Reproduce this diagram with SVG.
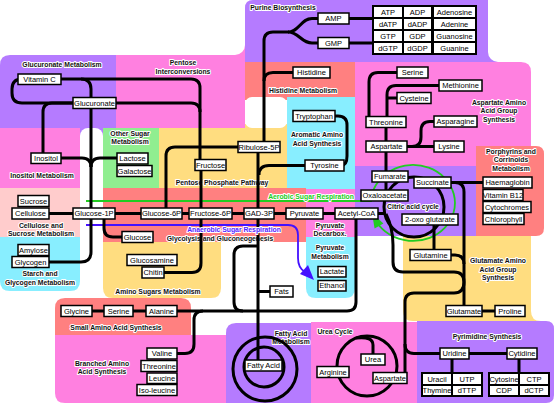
<svg xmlns="http://www.w3.org/2000/svg" width="556" height="403" viewBox="0 0 556 403">
<style>
.n rect{fill:#fff;stroke:#000;stroke-width:1.5}
.n text,.t text{font-family:"Liberation Sans",Arial,sans-serif;font-size:7.5px;text-anchor:middle;dominant-baseline:central;fill:#000}
.lb{font-family:"Liberation Sans",Arial,sans-serif;font-size:6.8px;font-weight:bold;text-anchor:middle;dominant-baseline:central;fill:#111;stroke:#fff;stroke-width:2;paint-order:stroke;stroke-linejoin:round}
.pu{fill:#b57bff}.pk{fill:#ff80e0}.sa{fill:#ff8080}.cy{fill:#88eeff}.ye{fill:#ffdd80}.gr{fill:#90ee90}.lp{fill:#ffcccc}
#connectors path,#connectors circle{fill:none;stroke:#000;stroke-width:3}
</style>
<rect width="556" height="403" fill="#fff"/>
<g id="regions">
<rect class="ye" x="159" y="124" width="129" height="64"/>
<path class="pu" d="M0 65 Q0 55 10 55 H116 V128 H0 Z"/>
<rect class="pu" x="80" y="126" width="23" height="10"/>
<rect class="pk" x="116" y="45" width="129" height="83"/>
<path class="pu" d="M245 8 Q245 0 253 0 H498 V62 H245 Z"/>
<rect x="488" y="-20" width="90" height="82" rx="10" fill="#fff"/>
<rect x="-10" y="-10" width="255" height="65" rx="10" fill="#fff"/>
<rect class="sa" x="245" y="62" width="110" height="38"/>
<path class="pk" d="M355 62 H521 Q531 62 531 72 V146 H476 V166 H355 Z"/>
<rect class="cy" x="287" y="97" width="68" height="92"/>
<rect x="245" y="97" width="42" height="31" rx="7" fill="#fff"/>
<rect class="gr" x="103" y="128" width="56" height="60"/>
<rect class="pk" x="0" y="128" width="80" height="60"/>
<rect class="lp" x="0" y="188" width="80" height="49"/>
<path class="cy" d="M0 237 H80 V281 Q80 291 70 291 H10 Q0 291 0 281 Z"/>
<rect x="80" y="128" width="23" height="175" rx="8" fill="#fff"/>
<rect class="sa" x="103" y="188" width="203" height="54"/>
<rect class="pk" x="306" y="189" width="49" height="48"/>
<path class="cy" d="M306 237 H355 V288 Q355 298 345 298 H316 Q306 298 306 288 Z"/>
<rect class="pu" x="355" y="166" width="121" height="70"/>
<path class="sa" d="M476 146 H536 Q544 146 544 154 V228 Q544 236 536 236 H476 Z"/>
<path class="ye" d="M403 236 H531 V321 H413 Q403 321 403 311 Z"/>
<path class="ye" d="M531 311 Q531 321 541 321 H531 Z"/>
<path class="ye" d="M103 242 H221 V288 Q221 298 211 298 H113 Q103 298 103 288 Z"/>
<path class="sa" d="M55 308 Q55 298 65 298 H181 Q191 298 191 308 V335 H55 Z"/>
<path class="pk" d="M55 335 H226 V403 H65 Q55 403 55 393 Z"/>
<path class="pu" d="M226 333 Q226 323 236 323 H311 V403 H226 Z"/>
<rect class="pk" x="311" y="322" width="106" height="81"/>
<path class="pu" d="M417 321 H546 Q554 321 554 329 V395 Q554 403 546 403 H417 Z"/>
</g>
<g id="labels">
<text class="lb" x="62" y="64.5">Glucuronate Metabolism</text>
<text class="lb" x="183" y="62">Pentose</text>
<text class="lb" x="183" y="71">Interconversions</text>
<text class="lb" x="283" y="7">Purine Biosynthesis</text>
<text class="lb" x="303" y="90.5">Histidine Metabolism</text>
<text class="lb" x="317" y="134.5">Aromatic Amino</text>
<text class="lb" x="317" y="143.5">Acid Synthesis</text>
<text class="lb" x="499" y="102">Aspartate Amino</text>
<text class="lb" x="499" y="110.5">Acid Group</text>
<text class="lb" x="499" y="119">Synthesis</text>
<text class="lb" x="130" y="133">Other Sugar</text>
<text class="lb" x="130" y="141.5">Metabolism</text>
<text class="lb" x="42" y="175">Inositol Metabolism</text>
<text class="lb" x="41" y="225.5">Cellulose and</text>
<text class="lb" x="41" y="233.5">Sucrose Metabolism</text>
<text class="lb" x="40" y="273.5">Starch and</text>
<text class="lb" x="40" y="282">Glycogen Metabolism</text>
<text class="lb" x="222" y="182.5">Pentose Phosphate Pathway</text>
<text class="lb" x="220" y="238.5">Glycolysis and Gluconeogenesis</text>
<text class="lb" x="330" y="225">Pyruvate</text>
<text class="lb" x="330" y="233">Decarbox.</text>
<text class="lb" x="330" y="247">Pyruvate</text>
<text class="lb" x="330" y="256">Metabolism</text>
<text class="lb" x="413" y="206">Citric acid cycle</text>
<text class="lb" x="511" y="151">Porphyrins and</text>
<text class="lb" x="511" y="159.5">Corrinoids</text>
<text class="lb" x="511" y="168">Metabolism</text>
<text class="lb" x="498" y="260.5">Glutamate Amino</text>
<text class="lb" x="498" y="269">Acid Group</text>
<text class="lb" x="498" y="277">Synthesis</text>
<text class="lb" x="158" y="291">Amino Sugars Metabolism</text>
<text class="lb" x="116" y="327">Small Amino Acid Synthesis</text>
<text class="lb" x="102" y="363">Branched Amino</text>
<text class="lb" x="102" y="371">Acid Synthesis</text>
<text class="lb" x="291" y="333">Fatty Acid</text>
<text class="lb" x="291" y="341">Metabolism</text>
<text class="lb" x="335" y="331">Urea Cycle</text>
<text class="lb" x="487" y="336">Pyrimidine Synthesis</text>
</g>
<g id="respiration">
<path d="M86 201 H371 A42 38 0 1 1 376.6 222" fill="none" stroke="#22cc22" stroke-width="1.8"/>
<polygon points="372,213 383.4,223.6 374.6,228.4" fill="#22cc22"/>
<path d="M86 225 H288 Q298 225 298 235 V258 Q298 268 305 272" fill="none" stroke="#4411ff" stroke-width="1.8"/>
<polygon points="314,280 300,274 308,265" fill="#4411ff"/>
</g>
<g id="connectors">
<path d="M22 79 Q12 79 12 89 V93 Q12 103 22 103 H73"/>
<path d="M61 79 H191 Q200 79 200 88 V159.5"/>
<path d="M116 103 H191 Q200 103 200 112"/>
<path d="M81 79 Q91 79 91 89 V208"/>
<path d="M73 103 H52 Q43 103 43 112 V153"/>
<path d="M61 158 H82 Q91 158 91 167"/>
<path d="M117 158 H100 Q91 158 91 167"/>
<path d="M49 213.5 H73"/>
<path d="M115 213.5 H141"/>
<path d="M91 219 V252 Q91 262 81 262 H49"/>
<path d="M104 219 V228 Q104 237 113 237 H122"/>
<path d="M166 208 V156 Q166 147 175 147 H238"/>
<path d="M201 171 V208"/>
<path d="M258 152.5 V208"/>
<path d="M305 165.5 H269 Q259 165.5 259 175"/>
<path d="M182 213.5 H189 M232 213.5 H244 M274 213.5 H286 M323 213.5 H335"/>
<path d="M264 141.5 V41 Q264 32 273 32 H289"/>
<path d="M288 32 C299 32 301 18.5 312 18.5 H318 M288 32 C299 32 301 43 312 43 H318"/>
<path d="M293 72.5 H273 Q264 72.5 264 81"/>
<path d="M349 18.5 H372 M349 43 H372"/>
<path d="M335 116 H338 Q347 116 347 125 V156 Q347 165.5 341 165.5"/>
<path d="M356 219 V302 Q356 311 347 311 H177"/>
<path d="M258 219 V360"/>
<path d="M258 246 H243 Q234 246 234 255 V302 Q234 311 243 311"/>
<path d="M177 353.5 H185 Q194 353.5 194 344 V320 Q194 311 203 311"/>
<path d="M92 311 H104 M133 311 H146"/>
<path d="M201 219 V263 Q201 272.5 192 272.5 H164"/>
<path d="M270 291.5 H258"/>
<path d="M386 127.5 V141 M386 152 V171 M386 182 V190"/>
<path d="M397 72.5 H378 Q369 72.5 369 82 V116.5"/>
<path d="M439 85.5 H396 Q387 85.5 387 95 V116.5 M387 98 H397"/>
<path d="M407 146.5 H434 M412 146.5 Q421 146.5 421 137 V131 Q421 121.5 430 121.5 H434"/>
<path d="M451 182.5 H483 M455 182.5 Q464 182.5 464 192 V305.5"/>
<path d="M434 225 V249.5"/>
<path d="M482 311 H495"/>
<path d="M469 353.5 H507 M452 359 V372 M519 359 V372"/>
<path d="M440 353.5 H414 Q405 353.5 405 344"/>
<path d="M386 214 Q393 228 393 245 V262 Q393 272 403 272 H454 Q464 272 464 282 Q464 293 454 293 H414 Q405 293 405 302 V372.5"/>
<path d="M451 255 H455 Q464 255 464 264"/>
<circle cx="414" cy="207" r="30"/>
<path d="M378 213.5 H385"/>
<circle cx="367" cy="366" r="30"/>
<path d="M356 338 Q373 336 373 345 V354"/>
<circle cx="265" cy="369" r="32"/>
<circle cx="264" cy="367" r="20"/>
</g>
<g id="respiration-labels">
<text class="lb" x="311" y="196.5" style="fill:#22cc22">Aerobic Sugar Respiration</text>
<text class="lb" x="234" y="229.5" style="fill:#5522ff">Anaerobic Sugar Respiration</text>
</g>
<g id="tables" class="t">
<rect x="372" y="5" width="105" height="50" fill="#000"/>
<rect x="374" y="7" width="28" height="10" fill="#fff"/><rect x="404" y="7" width="27" height="10" fill="#fff"/><rect x="434" y="7" width="41" height="10" fill="#fff"/>
<rect x="374" y="19" width="28" height="10" fill="#fff"/><rect x="404" y="19" width="27" height="10" fill="#fff"/><rect x="434" y="19" width="41" height="10" fill="#fff"/>
<rect x="374" y="31" width="28" height="10" fill="#fff"/><rect x="404" y="31" width="27" height="10" fill="#fff"/><rect x="434" y="31" width="41" height="10" fill="#fff"/>
<rect x="374" y="43" width="28" height="10" fill="#fff"/><rect x="404" y="43" width="27" height="10" fill="#fff"/><rect x="434" y="43" width="41" height="10" fill="#fff"/>
<text x="388" y="12">ATP</text><text x="417.5" y="12">ADP</text><text x="454.5" y="12">Adenosine</text>
<text x="388" y="24">dATP</text><text x="417.5" y="24">dADP</text><text x="454.5" y="24">Adenine</text>
<text x="388" y="36">GTP</text><text x="417.5" y="36">GDP</text><text x="454.5" y="36">Guanosine</text>
<text x="388" y="48">dGTP</text><text x="417.5" y="48">dGDP</text><text x="454.5" y="48">Guanine</text>
<rect x="421" y="372" width="62" height="25" fill="#000"/>
<rect x="423" y="374" width="28" height="10" fill="#fff"/><rect x="453" y="374" width="28" height="10" fill="#fff"/>
<rect x="423" y="386" width="28" height="9" fill="#fff"/><rect x="453" y="386" width="28" height="9" fill="#fff"/>
<text x="437" y="379">Uracil</text><text x="467" y="379">UTP</text><text x="437" y="390.5">Thymine</text><text x="467" y="390.5">dTTP</text>
<rect x="488" y="372" width="62" height="25" fill="#000"/>
<rect x="490" y="374" width="28" height="10" fill="#fff"/><rect x="520" y="374" width="28" height="10" fill="#fff"/>
<rect x="490" y="386" width="28" height="9" fill="#fff"/><rect x="520" y="386" width="28" height="9" fill="#fff"/>
<text x="504" y="379">Cytosine</text><text x="534" y="379">CTP</text><text x="504" y="390.5">CDP</text><text x="534" y="390.5">dCTP</text>
</g>
<g id="n-vitaminc" class="n"><rect x="18" y="74" width="43" height="10.5"/><text x="39.5" y="79.3">Vitamin C</text></g>
<g id="n-glucuronate" class="n"><rect x="73" y="97.5" width="43" height="11"/><text x="94.5" y="103">Glucuronate</text></g>
<g id="n-inositol" class="n"><rect x="31" y="153" width="30" height="10.5"/><text x="46" y="158.2">Inositol</text></g>
<g id="n-lactose" class="n"><rect x="117" y="153" width="31" height="11"/><text x="132.5" y="158.5">Lactose</text></g>
<g id="n-galactose" class="n"><rect x="117" y="165.5" width="35" height="11"/><text x="134.5" y="171">Galactose</text></g>
<g id="n-sucrose" class="n"><rect x="18" y="195.5" width="31" height="11"/><text x="33.5" y="201">Sucrose</text></g>
<g id="n-cellulose" class="n"><rect x="12" y="208" width="37" height="11"/><text x="30.5" y="213.5">Cellulose</text></g>
<g id="n-glucose1p" class="n"><rect x="73" y="208" width="42" height="11"/><text x="94" y="213.5">Glucose-1P</text></g>
<g id="n-amylose" class="n"><rect x="18" y="244.5" width="31" height="11"/><text x="33.5" y="250">Amylose</text></g>
<g id="n-glycogen" class="n"><rect x="12" y="256.5" width="37" height="11"/><text x="30.5" y="262">Glycogen</text></g>
<g id="n-glucose" class="n"><rect x="122" y="231.5" width="31" height="11"/><text x="137.5" y="237">Glucose</text></g>
<g id="n-glucose6p" class="n"><rect x="141" y="208" width="41" height="11"/><text x="161.5" y="213.5">Glucose-6P</text></g>
<g id="n-fructose6p" class="n"><rect x="189" y="208" width="43" height="11"/><text x="210.5" y="213.5">Fructose-6P</text></g>
<g id="n-gad3p" class="n"><rect x="244" y="208" width="30" height="11"/><text x="259" y="213.5">GAD-3P</text></g>
<g id="n-pyruvate" class="n"><rect x="286" y="208" width="37" height="11"/><text x="304.5" y="213.5">Pyruvate</text></g>
<g id="n-acetylcoa" class="n"><rect x="335" y="208" width="43" height="11"/><text x="356.5" y="213.5">Acetyl-CoA</text></g>
<g id="n-fructose" class="n"><rect x="195" y="159.5" width="31" height="11"/><text x="210.5" y="165">Fructose</text></g>
<g id="n-ribulose5p" class="n"><rect x="238" y="141.5" width="42" height="11"/><text x="259" y="147">Ribulose-5P</text></g>
<g id="n-tryptophan" class="n"><rect x="293" y="110.5" width="42" height="11"/><text x="314" y="116">Tryptophan</text></g>
<g id="n-tyrosine" class="n"><rect x="305" y="160" width="39" height="11"/><text x="324.5" y="165.5">Tyrosine</text></g>
<g id="n-histidine" class="n"><rect x="293" y="67" width="37" height="11"/><text x="311.5" y="72.5">Histidine</text></g>
<g id="n-amp" class="n"><rect x="318" y="13" width="31" height="11"/><text x="333.5" y="18.5">AMP</text></g>
<g id="n-gmp" class="n"><rect x="318" y="37.5" width="31" height="11"/><text x="333.5" y="43">GMP</text></g>
<g id="n-serine" class="n"><rect x="397" y="67" width="31" height="11"/><text x="412.5" y="72.5">Serine</text></g>
<g id="n-methionine" class="n"><rect x="439" y="80" width="43" height="11"/><text x="460.5" y="85.5">Methionine</text></g>
<g id="n-cysteine" class="n"><rect x="397" y="92.5" width="34" height="11"/><text x="414" y="98">Cysteine</text></g>
<g id="n-threonine" class="n"><rect x="366" y="116.5" width="40" height="11"/><text x="386" y="122">Threonine</text></g>
<g id="n-asparagine" class="n"><rect x="434" y="116" width="43" height="11"/><text x="455.5" y="121.5">Asparagine</text></g>
<g id="n-aspartate" class="n"><rect x="366" y="141" width="41" height="11"/><text x="386.5" y="146.5">Aspartate</text></g>
<g id="n-lysine" class="n"><rect x="434" y="141" width="30" height="11"/><text x="449" y="146.5">Lysine</text></g>
<g id="n-fumarate" class="n"><rect x="372" y="171" width="36" height="11"/><text x="390" y="176.5">Fumarate</text></g>
<g id="n-oxaloacetate" class="n"><rect x="361" y="190" width="47" height="11"/><text x="384.5" y="195.5">Oxaloacetate</text></g>
<g id="n-succinate" class="n"><rect x="414" y="177" width="37" height="11"/><text x="432.5" y="182.5">Succinate</text></g>
<g id="n-oxoglutarate" class="n"><rect x="402" y="214" width="56" height="11"/><text x="430" y="219.5">2-oxo glutarate</text></g>
<g id="n-haemaglobin" class="n"><rect x="483" y="177" width="49" height="11"/><text x="507.5" y="182.5">Haemaglobin</text></g>
<g id="n-vitaminb12" class="n"><rect x="483" y="189.5" width="40" height="11"/><text x="503" y="195">Vitamin B12</text></g>
<g id="n-cytochromes" class="n"><rect x="483" y="201.5" width="48" height="11"/><text x="507" y="207">Cytochromes</text></g>
<g id="n-chlorophyll" class="n"><rect x="483" y="213.5" width="41" height="11"/><text x="503.5" y="219">Chlorophyll</text></g>
<g id="n-glutamine" class="n"><rect x="410" y="249.5" width="41" height="11"/><text x="430.5" y="255">Glutamine</text></g>
<g id="n-glutamate" class="n"><rect x="446" y="305.5" width="36" height="11"/><text x="464" y="311">Glutamate</text></g>
<g id="n-proline" class="n"><rect x="495" y="305.5" width="30" height="11"/><text x="510" y="311">Proline</text></g>
<g id="n-lactate" class="n"><rect x="318" y="266.5" width="28" height="10.5"/><text x="332" y="271.7">Lactate</text></g>
<g id="n-ethanol" class="n"><rect x="318" y="280.5" width="28" height="10.5"/><text x="332" y="285.7">Ethanol</text></g>
<g id="n-fats" class="n"><rect x="270" y="286" width="23" height="11"/><text x="281.5" y="291.5">Fats</text></g>
<g id="n-glucosamine" class="n"><rect x="127" y="254.5" width="50" height="11"/><text x="152" y="260">Glucosamine</text></g>
<g id="n-chitin" class="n"><rect x="142" y="267" width="22" height="11"/><text x="153" y="272.5">Chitin</text></g>
<g id="n-glycine" class="n"><rect x="61" y="305.5" width="31" height="11"/><text x="76.5" y="311">Glycine</text></g>
<g id="n-serine2" class="n"><rect x="104" y="305.5" width="29" height="11"/><text x="118.5" y="311">Serine</text></g>
<g id="n-alanine" class="n"><rect x="146" y="305.5" width="31" height="11"/><text x="161.5" y="311">Alanine</text></g>
<g id="n-valine" class="n"><rect x="147" y="348" width="30" height="11"/><text x="162" y="353.5">Valine</text></g>
<g id="n-threonine2" class="n"><rect x="141" y="360.5" width="36" height="11"/><text x="159" y="366">Threonine</text></g>
<g id="n-leucine" class="n"><rect x="147" y="373" width="30" height="10.5"/><text x="162" y="378.2">Leucine</text></g>
<g id="n-isoleucine" class="n"><rect x="137" y="384.5" width="40" height="11"/><text x="157" y="390">Iso-leucine</text></g>
<g id="n-fattyacid" class="n"><rect x="245" y="360" width="37" height="11"/><text x="263.5" y="365.5">Fatty Acid</text></g>
<g id="n-urea" class="n"><rect x="361" y="354" width="24" height="11"/><text x="373" y="359.5">Urea</text></g>
<g id="n-arginine" class="n"><rect x="317" y="366.5" width="32" height="11"/><text x="333" y="372">Arginine</text></g>
<g id="n-aspartate2" class="n"><rect x="373" y="372.5" width="34" height="11"/><text x="390" y="378">Aspartate</text></g>
<g id="n-uridine" class="n"><rect x="440" y="348" width="29" height="11"/><text x="454.5" y="353.5">Uridine</text></g>
<g id="n-cytidine" class="n"><rect x="507" y="348" width="30" height="11"/><text x="522" y="353.5">Cytidine</text></g>
</svg>
